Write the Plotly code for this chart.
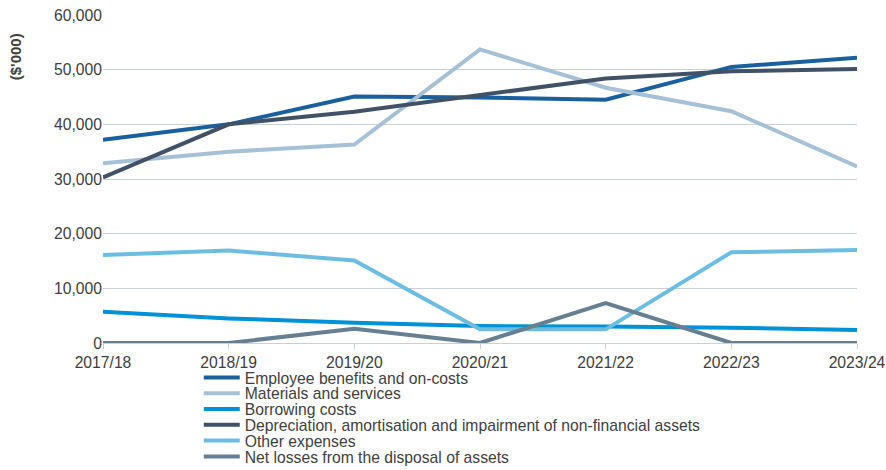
import plotly.graph_objects as go

years = ["2017/18", "2018/19", "2019/20", "2020/21", "2021/22", "2022/23", "2023/24"]

employee_benefits = [37200, 40000, 45100, 44900, 44500, 50500, 52200]
materials_services = [32900, 35000, 36300, 53700, 46700, 42400, 32300]
borrowing_costs = [5700, 4500, 3700, 3100, 3000, 2800, 2400]
depreciation = [30300, 40000, 42300, 45400, 48400, 49700, 50100]
other_expenses = [16100, 16900, 15100, 2500, 2500, 16600, 17000]
net_losses = [0, 0, 2600, 0, 7300, 0, 0]

series_names = [
    "Employee benefits and on-costs",
    "Materials and services",
    "Borrowing costs",
    "Depreciation, amortisation and impairment of non-financial assets",
    "Other expenses",
    "Net losses from the disposal of assets",
]
series_values = [employee_benefits, materials_services, borrowing_costs,
                 depreciation, other_expenses, net_losses]
series_colors = ["#1a5f9e", "#a6c0d6", "#0092d6", "#415266", "#6dbde2", "#667f91"]

y_ticks = [0, 10000, 20000, 30000, 40000, 50000, 60000]

TEXT = "#404040"
GRID = "#c8d0d8"
PLOT_H = 328  # plot area height in px, used to step the legend rows

fig = go.Figure()
legend_layout = {}
for i, (name, vals, col) in enumerate(zip(series_names, series_values, series_colors)):
    key = "legend" if i == 0 else f"legend{i + 1}"
    fig.add_trace(go.Scatter(
        x=years, y=vals, name=name, mode="lines",
        line=dict(color=col, width=4),
        legend=key,
    ))
    # one compact legend row per series, stacked ~16 px apart
    legend_layout[key] = dict(
        x=0.127, y=-0.054 - i * 15.8 / PLOT_H,
        xanchor="left", yanchor="top",
        orientation="v", font=dict(size=15.7, color=TEXT),
        itemwidth=36, bgcolor="rgba(0,0,0,0)", borderwidth=0,
    )

fig.update_layout(
    width=886, height=470,
    margin=dict(l=103, r=29, t=15, b=127, autoexpand=False),
    paper_bgcolor="white", plot_bgcolor="white",
    font=dict(family="Liberation Sans, Arial, sans-serif", size=15.7, color=TEXT),
    showlegend=True,
    xaxis=dict(
        type="category", range=[0, 6],
        showgrid=False, zeroline=False,
        showline=True, linecolor=GRID, linewidth=1,
        ticks="outside", ticklen=5, tickcolor=GRID,
        tickfont=dict(size=15.7, color=TEXT),
    ),
    yaxis=dict(
        range=[0, 60000], tickvals=y_ticks, tickformat=",",
        showgrid=True, gridcolor=GRID, gridwidth=1,
        zeroline=False, showline=False, ticks="",
        tickfont=dict(size=15.7, color=TEXT),
    ),
    annotations=[dict(
        text="<b>($'000)</b>", textangle=-90,
        xref="paper", yref="paper", x=-0.115, y=0.872,
        xanchor="center", yanchor="middle", showarrow=False,
        font=dict(size=15, color=TEXT),
    )],
    **legend_layout,
)

fig.write_html("out.html")
